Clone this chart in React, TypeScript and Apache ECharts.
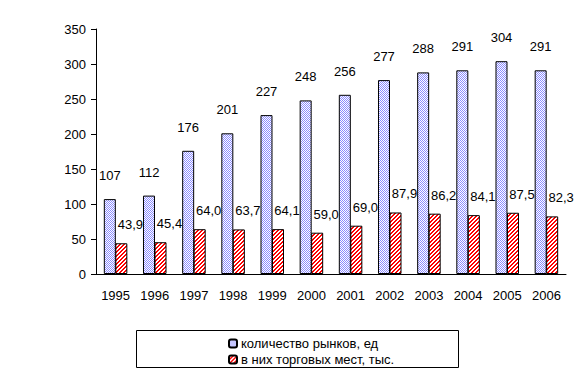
import React, { useEffect, useRef } from "react";
import * as echarts from "echarts";

const years = ["1995", "1996", "1997", "1998", "1999", "2000", "2001", "2002", "2003", "2004", "2005", "2006"];
const markets = [107, 112, 176, 201, 227, 248, 256, 277, 288, 291, 304, 291];
const places = [43.9, 45.4, 64.0, 63.7, 64.1, 59.0, 69.0, 87.9, 86.2, 84.1, 87.5, 82.3];
const seriesNames = ["количество рынков, ед", "в них торговых мест, тыс."];

function checker(): HTMLCanvasElement {
  const c = document.createElement("canvas");
  c.width = 2;
  c.height = 2;
  const ctx = c.getContext("2d")!;
  ctx.fillStyle = "#ffffff";
  ctx.fillRect(0, 0, 2, 2);
  ctx.fillStyle = "#8c8cff";
  ctx.fillRect(0, 0, 1, 1);
  ctx.fillRect(1, 1, 1, 1);
  return c;
}

function stripes(): HTMLCanvasElement {
  const c = document.createElement("canvas");
  c.width = 4;
  c.height = 4;
  const ctx = c.getContext("2d")!;
  ctx.fillStyle = "#ffffff";
  ctx.fillRect(0, 0, 4, 4);
  ctx.fillStyle = "#ff0000";
  for (let y = 0; y < 4; y++) {
    for (let k = 0; k < 2; k++) {
      const x = (3 - y + k + 4) % 4;
      ctx.fillRect(x, y, 1, 1);
    }
  }
  return c;
}

export default function App() {
  const ref = useRef<HTMLDivElement>(null);
  useEffect(() => {
    if (!ref.current) return;
    const chart = echarts.init(ref.current, null, { renderer: "svg" });
    const blue = checker();
    const red = stripes();
    const font = "'Liberation Sans', Arial, sans-serif";
    chart.setOption({
      animation: false,
      textStyle: { fontFamily: font },
      grid: { left: 96, top: 29, right: 22, bottom: 101 },
      legend: {
        orient: "vertical",
        left: 223,
        top: 332,
        itemWidth: 8,
        itemHeight: 8,
        itemGap: 3,
        textStyle: { fontSize: 13, color: "#000", fontFamily: font, padding: [0, 0, 0, -1] },
        data: seriesNames,
      },
      graphic: [
        {
          type: "rect",
          shape: { x: 136.5, y: 330.5, width: 322, height: 37 },
          style: { fill: "none", stroke: "#000", lineWidth: 1 },
          z: -1,
        },
      ],
      xAxis: {
        type: "category",
        data: years,
        axisLine: { lineStyle: { color: "#000" } },
        axisTick: { alignWithLabel: false, length: 5, lineStyle: { color: "#000" } },
        axisLabel: { color: "#000", fontSize: 13, margin: 15, fontFamily: font },
      },
      yAxis: {
        type: "value",
        min: 0,
        max: 350,
        interval: 50,
        splitLine: { show: false },
        axisLine: { show: true, lineStyle: { color: "#000" } },
        axisTick: { show: true, length: 5, lineStyle: { color: "#000" } },
        axisLabel: { color: "#000", fontSize: 13, margin: 10, fontFamily: font },
      },
      series: [
        {
          name: seriesNames[0],
          type: "bar",
          data: markets,
          barWidth: 12,
          barGap: "-4%",
          itemStyle: {
            color: { image: blue, repeat: "repeat" },
            borderColor: "#000",
            borderWidth: 1,
          },
          label: {
            show: true,
            position: "top",
            distance: 17,
            color: "#000",
            fontSize: 13,
            fontFamily: font,
          },
        },
        {
          name: seriesNames[1],
          type: "bar",
          data: places,
          barWidth: 12,
          itemStyle: {
            color: { image: red, repeat: "repeat" },
            borderColor: "#000",
            borderWidth: 1,
          },
          label: {
            show: true,
            position: "top",
            distance: 12,
            offset: [9, 0],
            color: "#000",
            fontSize: 13,
            fontFamily: font,
            formatter: (p: any) => p.value.toFixed(1).replace(".", ","),
          },
        },
      ],
    });
    return () => chart.dispose();
  }, []);
  return (
    <div
      ref={ref}
      style={{ position: "fixed", left: 0, top: 0, width: 588, height: 375, background: "#fff" }}
    />
  );
}
